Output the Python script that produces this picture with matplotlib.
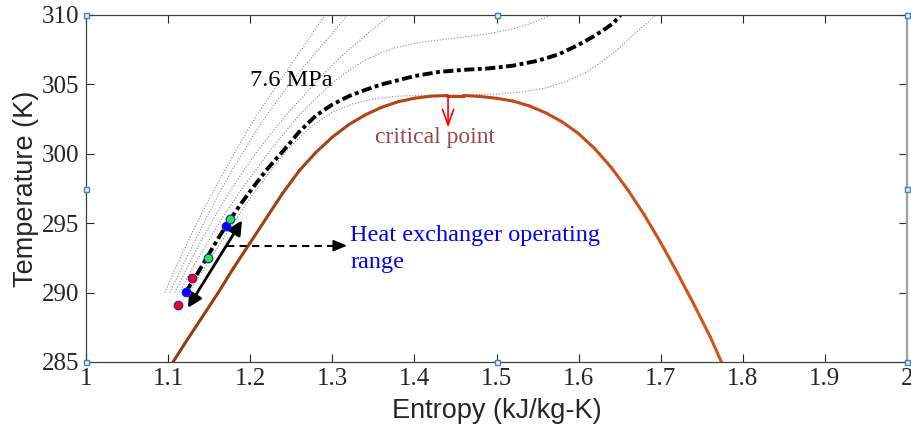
import numpy as np
import matplotlib
matplotlib.use("Agg")
import matplotlib.pyplot as plt
from matplotlib.collections import LineCollection

# Saturation dome (entropy kJ/kg-K, temperature K)
dome_liq_s = [1.106, 1.12, 1.14, 1.16, 1.18, 1.20, 1.22, 1.24, 1.26, 1.28, 1.30, 1.32,
              1.34, 1.36, 1.38, 1.40, 1.42, 1.44]
dome_liq_T = [285.0, 286.3, 288.1, 289.9, 291.8, 293.6, 295.4, 297.2, 298.8, 300.1, 301.2, 302.1,
              302.8, 303.35, 303.75, 304.0, 304.15, 304.2]
dome_vap_s = [1.44, 1.46, 1.48, 1.50, 1.52, 1.54, 1.56, 1.58, 1.60, 1.62, 1.64, 1.66,
              1.68, 1.70, 1.72, 1.74, 1.76, 1.774]
dome_vap_T = [304.2, 304.2, 304.13, 304.0, 303.8, 303.45, 302.95, 302.3, 301.45, 300.35, 299.0, 297.4,
              295.6, 293.6, 291.45, 289.2, 286.85, 285.0]

# 7.6 MPa isobar
iso76_s = [1.121, 1.135, 1.148, 1.162, 1.176, 1.19, 1.205, 1.22, 1.24, 1.26, 1.28, 1.30, 1.32,
           1.34, 1.36, 1.38, 1.40, 1.43, 1.46, 1.49, 1.52, 1.55, 1.575, 1.60, 1.615, 1.63, 1.642, 1.651]
iso76_T = [290.0, 291.3, 292.6, 294.0, 295.3, 296.5, 297.7, 298.85, 300.2, 301.6, 302.75, 303.55, 304.15,
           304.6, 305.0, 305.3, 305.6, 305.9, 306.05, 306.15, 306.35, 306.7, 307.15, 307.85, 308.35, 308.9, 309.4, 310.0]

# Neighbouring isobars (dotted)
iso74_s = [1.125, 1.15, 1.175, 1.20, 1.225, 1.25, 1.275, 1.30, 1.325, 1.35, 1.38, 1.42, 1.46,
           1.50, 1.53, 1.56, 1.585, 1.61, 1.63, 1.65, 1.667, 1.682, 1.694]
iso74_T = [290.0, 292.3, 294.6, 296.8, 298.8, 300.6, 302.0, 303.0, 303.6, 303.95, 304.15, 304.22, 304.25,
           304.3, 304.45, 304.75, 305.2, 305.9, 306.7, 307.65, 308.6, 309.35, 310.0]
iso80_s = [1.114, 1.13, 1.15, 1.165, 1.182, 1.20, 1.22, 1.24, 1.26, 1.28, 1.30, 1.32, 1.34, 1.36,
           1.38, 1.40, 1.43, 1.46, 1.49, 1.52, 1.545, 1.566]
iso80_T = [290.0, 291.8, 293.8, 295.3, 296.8, 298.3, 299.9, 301.4, 302.8, 304.0, 305.1, 306.0, 306.75, 307.3,
           307.7, 307.95, 308.2, 308.4, 308.65, 309.0, 309.45, 310.0]
iso90_s = [1.108, 1.125, 1.14, 1.155, 1.17, 1.19, 1.21, 1.23, 1.25, 1.27, 1.29, 1.31, 1.33, 1.35, 1.371]
iso90_T = [290.0, 292.0, 293.7, 295.3, 296.8, 298.6, 300.3, 301.8, 303.2, 304.5, 305.8, 306.95, 308.0, 309.0, 310.0]
iso100_s = [1.102, 1.115, 1.13, 1.145, 1.16, 1.175, 1.19, 1.21, 1.23, 1.25, 1.27, 1.29, 1.305, 1.318]
iso100_T = [290.0, 291.6, 293.4, 295.2, 296.9, 298.5, 300.0, 301.9, 303.6, 305.2, 306.6, 308.0, 309.0, 310.0]
iso110_s = [1.096, 1.11, 1.125, 1.14, 1.155, 1.17, 1.185, 1.20, 1.215, 1.23, 1.245, 1.26, 1.275, 1.291]
iso110_T = [290.0, 291.9, 293.8, 295.6, 297.3, 298.9, 300.5, 302.0, 303.4, 304.7, 306.0, 307.3, 308.6, 310.0]

# Measured heat-exchanger states
red_s = [1.1126, 1.1297]
red_T = [289.1, 291.05]
blue_s = [1.1216, 1.1707]
blue_T = [290.07, 294.8]
green_s = [1.148, 1.1756]
green_T = [292.5, 295.3]

# Operating range arrow end points
range_start = (1.124, 288.9)
range_end = (1.190, 295.2)
critical = (1.441, 304.2)

x_ticks = [1, 1.1, 1.2, 1.3, 1.4, 1.5, 1.6, 1.7, 1.8, 1.9, 2]
x_tick_labels = ["1", "1.1", "1.2", "1.3", "1.4", "1.5", "1.6", "1.7", "1.8", "1.9", "2"]
y_ticks = [285, 290, 295, 300, 305, 310]

W, H = 911, 434
fig = plt.figure(figsize=(W / 100, H / 100), dpi=100)
ax = fig.add_axes([86 / W, 72 / H, 821 / W, 347 / H])
ax.set_xlim(1, 2)
ax.set_ylim(285, 310)

axc = "#262626"
serif = "Liberation Serif"
sans = "Liberation Sans"

# dotted isobars
for s, T in [(iso74_s, iso74_T), (iso80_s, iso80_T), (iso90_s, iso90_T),
             (iso100_s, iso100_T), (iso110_s, iso110_T)]:
    ax.plot(s, T, ls=(0, (1, 1.6)), color="#8a8a8a", lw=0.8)

# saturation dome, shaded from brown to orange along entropy
ds = np.array(dome_liq_s + dome_vap_s[1:])
dT = np.array(dome_liq_T + dome_vap_T[1:])
pts = np.column_stack([ds, dT]).reshape(-1, 1, 2)
segs = np.concatenate([pts[:-1], pts[1:]], axis=1)
mid = 0.5 * (ds[:-1] + ds[1:])
c0 = np.array([0.58, 0.23, 0.07])
c1 = np.array([0.85, 0.33, 0.10])
frac = np.clip((mid - 1.1) / (1.78 - 1.1), 0, 1)[:, None]
cols = c0 * (1 - frac) + c1 * frac
lc = LineCollection(segs, colors=cols, linewidths=2.2, capstyle="round", joinstyle="round")
ax.add_collection(lc)

# 7.6 MPa isobar
ax.plot(iso76_s, iso76_T, color="black", lw=2.8, dashes=(2.6, 0.9, 1.0, 0.9))

# operating range arrow
ax.annotate("", xy=range_end, xytext=range_start,
            arrowprops=dict(arrowstyle="<|-|>,head_length=0.6,head_width=0.3",
                            color="black", lw=2.0, mutation_scale=14,
                            shrinkA=0, shrinkB=0))

# state points
mk = dict(ls="none", marker="o", ms=6.2, mec="#1a1aff", mew=0.8, zorder=5)
ax.plot(red_s, red_T, mfc="red", **mk)
ax.plot(blue_s, blue_T, mfc="blue", **mk)
ax.plot(green_s, green_T, mfc="#2ee82e", **mk)

# pointer to the label
ax.plot([1.172, 1.305], [293.38, 293.38], color="black", lw=1.5, dashes=(3.5, 2.5))
ax.annotate("", xy=(1.318, 293.38), xytext=(1.300, 293.38),
            arrowprops=dict(arrowstyle="-|>,head_length=0.6,head_width=0.25",
                            color="black", lw=1.2, mutation_scale=14,
                            shrinkA=0, shrinkB=0))
ax.text(1.322, 293.72, "Heat exchanger operating", color="blue",
        fontsize=17.5, family=serif, ha="left", va="baseline")
ax.text(1.322, 291.77, "range", color="blue",
        fontsize=17.5, family=serif, ha="left", va="baseline")

# critical point
ax.annotate("", xy=(critical[0], 301.9), xytext=critical,
            arrowprops=dict(arrowstyle="->,head_length=0.7,head_width=0.25",
                            color="red", lw=1.2, mutation_scale=16,
                            shrinkA=0, shrinkB=0))
ax.text(1.4256, 300.8, "critical point", color="#944a4a", fontsize=17,
        family=serif, ha="center", va="baseline")

ax.text(1.2, 304.9, "7.6 MPa", color="black", fontsize=17.5,
        family=serif, ha="left", va="baseline")

# axes styling
ax.set_xticks(x_ticks)
ax.set_xticklabels(x_tick_labels)
ax.set_yticks(y_ticks)
ax.tick_params(direction="in", length=5.8, width=0.8, color=axc,
               top=True, right=True, labelsize=18, labelcolor=axc)
ax.tick_params(axis="x", pad=4)
ax.tick_params(axis="y", pad=5)
for lab in ax.get_xticklabels() + ax.get_yticklabels():
    lab.set_family(serif)
for side in ["left", "bottom", "top"]:
    ax.spines[side].set_color("#404040")
    ax.spines[side].set_linewidth(0.9)
ax.spines["right"].set_color("#a0a0a0")
ax.spines["right"].set_linewidth(1.6)

ax.set_xlabel("Entropy (kJ/kg-K)", fontsize=19.5, family=sans, color=axc, labelpad=6)
ax.set_ylabel("Temperature (K)", fontsize=19.5, family=sans, color=axc, labelpad=2)

# selection handles on the axes box
hx = [1, 1, 1, 1.5, 2, 2, 2, 1.5]
hy = [285, 297.5, 310, 310, 310, 297.5, 285, 285]
ax.plot(hx, hy, ls="none", marker="s", ms=3.6, mfc="#e8f1fb", mec="#3d85c6",
        mew=1.0, clip_on=False, zorder=10)

fig.savefig("out.png", dpi=100)
